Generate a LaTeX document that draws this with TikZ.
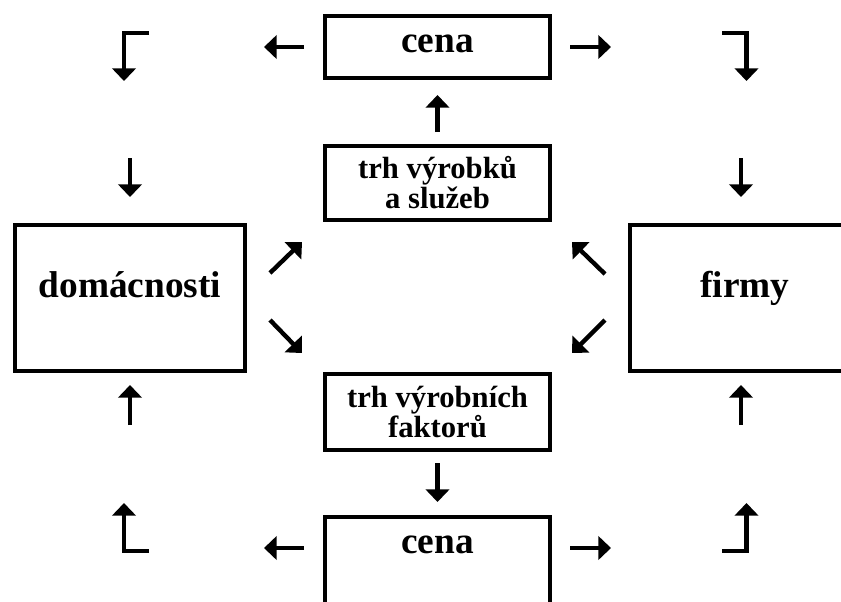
\documentclass[tikz,border=0pt]{standalone}
\usepackage{fontspec}
\setmainfont{Liberation Serif}
\usetikzlibrary{arrows.meta}
\begin{document}
\begin{tikzpicture}[x=0.75pt,y=-0.75pt,
  box/.style={draw, line width=3.2pt, outer sep=0pt, inner sep=0pt,
    font=\fontsize{23}{22.5}\selectfont\bfseries, align=center},
  bigtext/.style={font=\fontsize{28}{30}\selectfont\bfseries},
  arr/.style={line width=3.3pt, -{Triangle[length=9.5pt,width=17.5pt]}, line join=miter},
]
\useasboundingbox (0,0) rectangle (841,601);
\begin{scope}
\clip (0,0) rectangle (841,601);
% boxes
\node[box, bigtext, minimum width=168.75pt, text height=27.5pt, text depth=19pt] (cenaTop) at (437.5,47) {cena};
\node[box, minimum width=168.75pt, minimum height=55.5pt] (trhV) at (437.5,183) {trh výrobků\\a služeb};
\node[box, minimum width=168.75pt, minimum height=57pt] (trhF) at (437.5,412) {trh výrobních\\faktorů};
\node[box, bigtext, minimum width=168.75pt, text height=27pt, text depth=75pt, anchor=north] (cenaBot) at (437.5,517) {cena};
\node[box, bigtext, minimum width=172.5pt, minimum height=109.5pt, text height=20pt, text depth=21.5pt] (dom) at (130,298) {domácnosti};
\node[box, bigtext, minimum width=172.5pt, minimum height=109.5pt, text height=20pt, text depth=21.5pt] (firmy) at (745,298) {firmy};

% free ends
\coordinate (tlA) at (304,47);  \coordinate (tlB) at (264,47);
\coordinate (trA) at (570,47);  \coordinate (trB) at (611,47);
\coordinate (blA) at (304,548); \coordinate (blB) at (264,548);
\coordinate (brA) at (570,548); \coordinate (brB) at (611,548);

\coordinate (c1a) at (149,33);  \coordinate (c1b) at (124,33);  \coordinate (c1c) at (124,81);
\coordinate (c2a) at (722,33);  \coordinate (c2b) at (746.5,33); \coordinate (c2c) at (746.5,81);
\coordinate (c3a) at (149,551); \coordinate (c3b) at (124,551); \coordinate (c3c) at (124,503);
\coordinate (c4a) at (722,551); \coordinate (c4b) at (746.5,551); \coordinate (c4c) at (746.5,503);

\coordinate (dLa) at (130,158); \coordinate (dLb) at (130,197);
\coordinate (dRa) at (741,158); \coordinate (dRb) at (741,197);
\coordinate (uLa) at (130,425); \coordinate (uLb) at (130,385);
\coordinate (uRa) at (741,425); \coordinate (uRb) at (741,385);

\coordinate (g1a) at (270,273); \coordinate (g1b) at (302,242);
\coordinate (g2a) at (270,320); \coordinate (g2b) at (302,353);
\coordinate (g3a) at (605,274); \coordinate (g3b) at (572,242);
\coordinate (g4a) at (605,320); \coordinate (g4b) at (572,353);

% arrows
\draw[arr, shorten <=10.5pt, shorten >=12.75pt] (trhV) -- (cenaTop);
\draw[arr, shorten <=9.75pt, shorten >=11.25pt] (trhF) -- (cenaBot);

\draw[arr] (tlA) -- (tlB);
\draw[arr] (trA) -- (trB);
\draw[arr] (blA) -- (blB);
\draw[arr] (brA) -- (brB);

\draw[arr] (c1a) -- (c1b) -- (c1c);
\draw[arr] (c2a) -- (c2b) -- (c2c);
\draw[arr] (c3a) -- (c3b) -- (c3c);
\draw[arr] (c4a) -- (c4b) -- (c4c);

\draw[arr] (dLa) -- (dLb);
\draw[arr] (dRa) -- (dRb);
\draw[arr] (uLa) -- (uLb);
\draw[arr] (uRa) -- (uRb);

\draw[arr] (g1a) -- (g1b);
\draw[arr] (g2a) -- (g2b);
\draw[arr] (g3a) -- (g3b);
\draw[arr] (g4a) -- (g4b);
\end{scope}
\end{tikzpicture}
\end{document}
